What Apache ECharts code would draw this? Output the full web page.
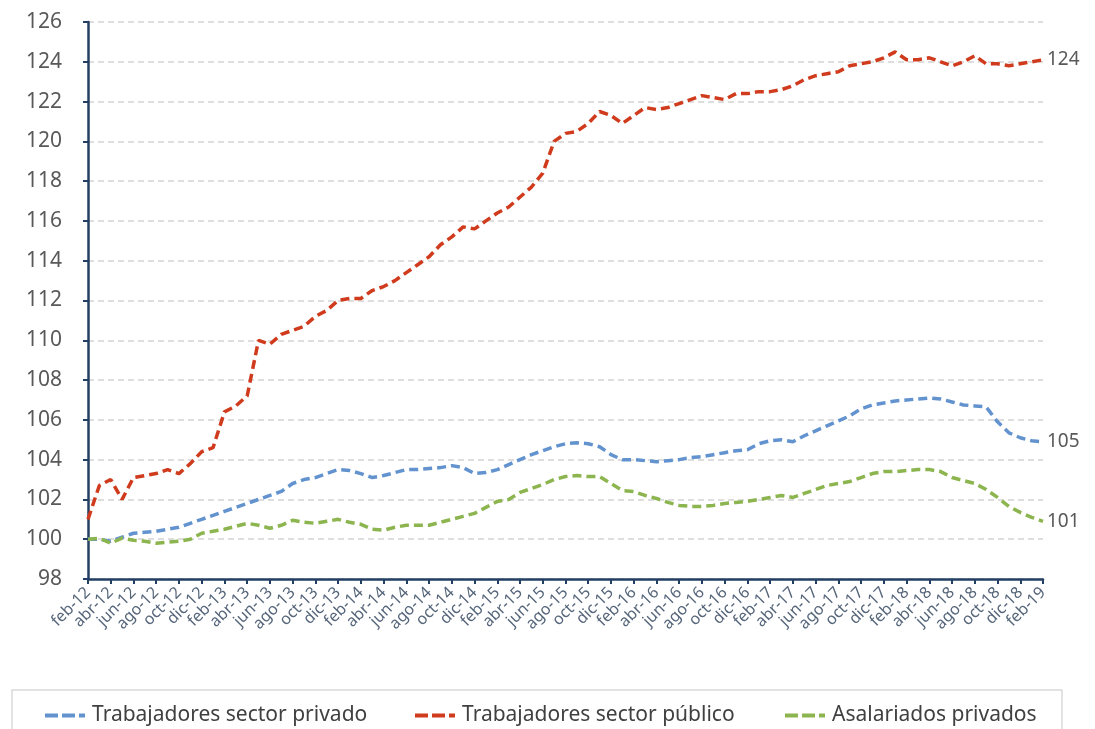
<!DOCTYPE html>
<html><head><meta charset="utf-8">
<script src="https://cdn.jsdelivr.net/npm/echarts@6/dist/echarts.min.js"></script>
<style>html,body{margin:0;padding:0;background:#fff}#c{width:1095px;height:729px}</style>
</head><body><div id="c"></div>
<script>
const monthAbbr = ['ene','feb','mar','abr','may','jun','jul','ago','sep','oct','nov','dic'];
const firstYear = 12, firstMonth = 1, nMonths = 85;
const categories = [];
for (let k = 0; k < nMonths; k++) {
  const m = (firstMonth + k) % 12;
  const y = firstYear + Math.floor((firstMonth + k) / 12);
  categories.push(monthAbbr[m] + '-' + y);
}
const seriesNames = ['Trabajadores sector privado','Trabajadores sector público','Asalariados privados'];
const privado = [100.0,100.0,99.9,100.1,100.3,100.35,100.4,100.5,100.6,100.8,101.0,101.2,101.4,101.6,101.8,102.0,102.2,102.4,102.8,103.0,103.1,103.3,103.5,103.45,103.3,103.1,103.2,103.35,103.5,103.5,103.55,103.6,103.7,103.6,103.3,103.35,103.5,103.75,104.0,104.25,104.45,104.65,104.8,104.85,104.8,104.65,104.25,104.0,104.0,103.95,103.9,103.95,104.0,104.1,104.15,104.25,104.35,104.45,104.5,104.8,104.95,105.0,104.9,105.2,105.45,105.7,105.95,106.2,106.55,106.75,106.85,106.95,107.0,107.05,107.1,107.05,106.9,106.75,106.7,106.65,105.9,105.35,105.1,104.95,104.9];
const publico = [101.0,102.7,103.0,102.0,103.1,103.2,103.3,103.5,103.3,103.8,104.4,104.6,106.4,106.7,107.2,110.0,109.8,110.3,110.5,110.7,111.2,111.5,112.0,112.1,112.1,112.5,112.7,113.0,113.4,113.8,114.2,114.8,115.2,115.7,115.6,116.0,116.4,116.7,117.2,117.7,118.4,120.0,120.4,120.5,120.9,121.5,121.3,120.9,121.3,121.7,121.6,121.7,121.9,122.1,122.3,122.2,122.1,122.4,122.4,122.5,122.5,122.6,122.8,123.1,123.3,123.4,123.5,123.8,123.9,124.0,124.2,124.5,124.1,124.1,124.2,124.0,123.8,124.0,124.3,123.9,123.9,123.8,123.9,124.0,124.1];
const asalariados = [100.0,100.05,99.8,100.05,99.95,99.9,99.8,99.85,99.9,100.0,100.3,100.4,100.5,100.65,100.8,100.7,100.55,100.7,100.95,100.85,100.8,100.9,101.0,100.85,100.75,100.5,100.45,100.6,100.7,100.7,100.7,100.85,101.0,101.15,101.3,101.6,101.9,102.0,102.35,102.55,102.75,103.0,103.15,103.2,103.15,103.15,102.8,102.45,102.4,102.2,102.05,101.85,101.7,101.65,101.65,101.7,101.8,101.85,101.9,102.0,102.1,102.2,102.1,102.3,102.5,102.7,102.8,102.9,103.1,103.3,103.4,103.4,103.45,103.5,103.5,103.4,103.1,102.95,102.8,102.5,102.1,101.65,101.35,101.1,100.9];
const colors = ['#6393CF','#CF3B1C','#8CB54F'];
const font = 'Noto Sans';
const dashIcon = 'path://M0,0h13v4h-13zM17,0h13v4h-13zM34,0h6v4h-6z';
const legendLefts = [40, 410, 780];
const chart = echarts.init(document.getElementById('c'), null, {renderer:'canvas'});
function mk(name, data, color){
  return {
    name: name, type:'line', data: data, symbol:'none', smooth:false,
    lineStyle:{color:color, width:3.5, type:[9,5]},
    itemStyle:{color:color},
    endLabel:{show:true, formatter: p => Math.round(p.value), color:'#595959', fontSize:19, fontFamily:font, distance:4},
    emphasis:{disabled:true}
  };
}
chart.setOption({
  animation:false,
  backgroundColor:'#fff',
  color: colors,
  graphic:[{type:'rect', shape:{x:12, y:690, width:1050, height:50}, style:{fill:'none', stroke:'#d9d9d9', lineWidth:1.5}, silent:true}],
  grid:{left:88, right:52, top:22, height:557, containLabel:false},
  legend: seriesNames.map((n, k) => ({
    top:700, left:legendLefts[k],
    data:[{name:n, icon:dashIcon}],
    itemWidth:44, itemHeight:4,
    textStyle:{color:'#404040', fontSize:21, fontFamily:font},
  })),
  xAxis:{
    type:'category', data:categories, boundaryGap:false,
    axisLine:{lineStyle:{color:'#233F62', width:2.5}},
    axisTick:{show:true, interval:1, length:5, lineStyle:{color:'#233F62', width:2}},
    axisLabel:{interval:1, rotate:45, color:'#55657A', fontSize:16, fontFamily:font, margin:11,
      showMinLabel:true, showMaxLabel:true, hideOverlap:false},
    splitLine:{show:false}
  },
  yAxis:{
    type:'value', min:98, max:126, interval:2,
    axisLine:{show:true, lineStyle:{color:'#233F62', width:2.5}},
    axisTick:{show:true, length:5, lineStyle:{color:'#233F62', width:2}},
    axisLabel:{color:'#595959', fontSize:21, fontFamily:font, margin:26},
    splitLine:{show:true, lineStyle:{color:'#d4d4d4', width:1.5, type:[6,4]}}
  },
  series:[mk(seriesNames[0], privado, colors[0]), mk(seriesNames[1], publico, colors[1]), mk(seriesNames[2], asalariados, colors[2])]
});
</script></body></html>
